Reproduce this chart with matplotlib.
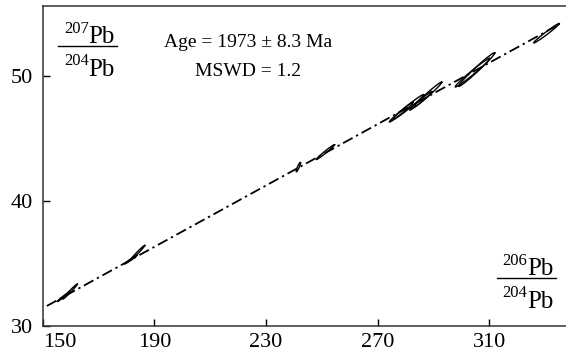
import matplotlib
matplotlib.use("Agg")
import matplotlib.pyplot as plt
import numpy as np
from matplotlib.lines import Line2D

# isochron fit
isochron_slope = 0.1226
isochron_intercept = 13.03
isochron_x = [151.5, 335.0]

# error ellipses: centre, half extent in x and y, error correlation
ell_x = [157.5, 159.8, 181.5, 184.0, 241.6, 251.3, 278.5, 281.0, 285.5, 288.0, 304.0, 305.5, 330.5]
ell_y = [32.35, 32.75, 35.30, 35.85, 42.70, 43.90, 47.10, 47.50, 48.00, 48.50, 50.25, 50.50, 53.40]
ell_sx = [2.3, 2.6, 2.2, 2.6, 0.8, 3.3, 4.3, 5.5, 4.0, 5.0, 6.2, 6.5, 4.6]
ell_sy = [0.40, 0.60, 0.35, 0.60, 0.38, 0.60, 0.80, 1.00, 0.75, 1.00, 1.15, 1.35, 0.78]
ell_rho = [0.985, 0.985, 0.985, 0.985, 0.90, 0.985, 0.985, 0.985, 0.985, 0.985, 0.985, 0.985, 0.985]

x_ticks = [150, 190, 230, 270, 310]
y_ticks = [30, 40, 50]

age_text = "Age = 1973 \u00b1 8.3 Ma"
mswd_text = "MSWD = 1.2"

plt.rcParams['font.family'] = ['Liberation Serif', 'DejaVu Serif']

AX_W, AX_H = 523.3, 320.3  # axes size in pixels, for nudging text


def ratio_label(ax, x, y, num, den, size=18, sup=12, half=29.5):
    # hand-built "isotope over isotope" fraction, x/y = centre of the bar (axes coords)
    px = lambda d: d / AX_W
    py = lambda d: d / AX_H
    ax.add_line(Line2D([x - px(half), x + px(half)], [y, y], transform=ax.transAxes,
                       color='black', lw=1.0, clip_on=False))
    pb_right = x + px(half - 2)
    pb_left = pb_right - px(26)
    for iso, base, sup_base in [(num, py(3), py(13)), (den, -py(30), -py(19))]:
        ax.text(pb_right, y + base, "Pb", transform=ax.transAxes, ha='right',
                va='baseline', fontsize=size)
        ax.text(pb_left, y + sup_base, iso, transform=ax.transAxes, ha='right',
                va='baseline', fontsize=sup)


fig = plt.figure(figsize=(5.66, 3.63), dpi=100)
ax = fig.add_axes([0.0754, 0.1019, 0.9246, 0.8824])

t = np.linspace(0, 2 * np.pi, 200)
for cx, cy, sx, sy, r in zip(ell_x, ell_y, ell_sx, ell_sy, ell_rho):
    ex = cx + sx * np.cos(t)
    ey = cy + sy * (r * np.cos(t) + np.sqrt(1 - r * r) * np.sin(t))
    ax.plot(ex, ey, color='black', lw=1.0)

lx = np.array(isochron_x)
ax.plot(lx, isochron_intercept + isochron_slope * lx, color='black', lw=1.3,
        dashes=[6, 2.2, 1.3, 2.2])

ax.set_xlim(150, 337.5)
ax.set_ylim(30, 55.6)
ax.set_xticks(x_ticks)
ax.set_yticks(y_ticks)
ax.tick_params(direction='in', length=5, width=1.0, labelsize=16, colors='black')
ax.tick_params(axis='x', pad=5)
ax.tick_params(axis='y', pad=7)
ax.get_xticklabels()[0].set_horizontalalignment('left')
ax.spines['right'].set_visible(False)
for s in ['left', 'bottom', 'top']:
    ax.spines[s].set_linewidth(1.1)
    ax.spines[s].set_color('#333333')

ax.text(0.392, 0.884, age_text, transform=ax.transAxes, ha='center', va='center', fontsize=14)
ax.text(0.392, 0.796, mswd_text, transform=ax.transAxes, ha='center', va='center', fontsize=14)

ratio_label(ax, 0.0856, 0.874, "207", "204")
ratio_label(ax, 0.9236, 0.150, "206", "204")

fig.savefig("out.png", dpi=100)
